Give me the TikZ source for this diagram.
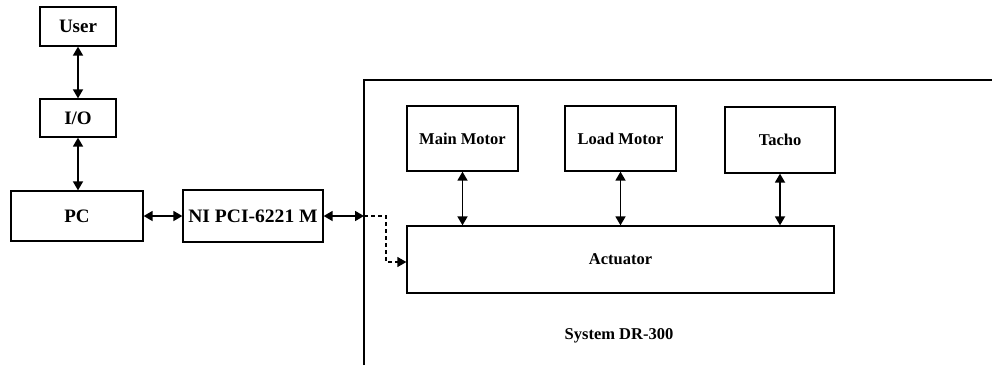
\documentclass[tikz,border=0pt]{standalone}
\usepackage{fontspec}
\setmainfont{Liberation Serif}
\usetikzlibrary{arrows.meta}
\begin{document}
\begin{tikzpicture}[x=1pt,y=-1pt,
  box/.style={draw, line width=1.3pt, inner sep=0pt, font=\fontsize{16.5}{18}\selectfont\bfseries},
  lbox/.style={box, font=\fontsize{19}{21}\selectfont\bfseries},
  link/.style={line width=1.7pt, {Triangle[length=9pt,width=10pt]}-{Triangle[length=9pt,width=10pt]}},
  dlink/.style={line width=1.3pt, dash pattern=on 4pt off 3pt, -{Triangle[length=9pt,width=10pt]}},
  frame/.style={line width=1.3pt}]
\useasboundingbox (0,0) rectangle (992,365);
\node[lbox, minimum width=76pt, minimum height=39pt] (user) at (78,26.5) {User};
\node[lbox, minimum width=76pt, minimum height=38pt] (io) at (78,118) {I/O};
\node[lbox, minimum width=132pt, minimum height=50pt] (pc) at (77,216) {PC};
\node[lbox, minimum width=140pt, minimum height=52pt] (ni) at (253,216) {\scalebox{1.03}[1]{NI PCI-6221 M}};
\node[box, minimum width=111pt, minimum height=65pt] (mm) at (462.5,138.5) {Main Motor};
\node[box, minimum width=111pt, minimum height=65pt] (lm) at (620.5,138.5) {Load Motor};
\node[box, minimum width=110pt, minimum height=66pt] (ta) at (780,140) {Tacho};
\node[box, minimum width=427pt, minimum height=67pt] (act) at (620.5,259.5) {Actuator};
\node[font=\fontsize{16.5}{18}\selectfont\bfseries] (sys) at (619,336) {System DR-300};
\draw[frame] (364,365) -- (364,80) -- (992,80);
\coordinate (fe) at (364,216);
\coordinate (d1) at (386,216);
\coordinate (d2) at (386,262);
\draw[link] (user) -- (io);
\draw[link] (io) -- (io |- pc.north);
\draw[link] (pc) -- (ni);
\draw[link] (ni) -- (fe);
\draw[dlink] (fe) -- (d1) -- (d2) -- (act.west |- d2);
\draw[link] (mm.south) -- (mm.south |- act.north);
\draw[link] (lm.south) -- (lm.south |- act.north);
\draw[link] (ta.south) -- (ta.south |- act.north);
\end{tikzpicture}
\end{document}
